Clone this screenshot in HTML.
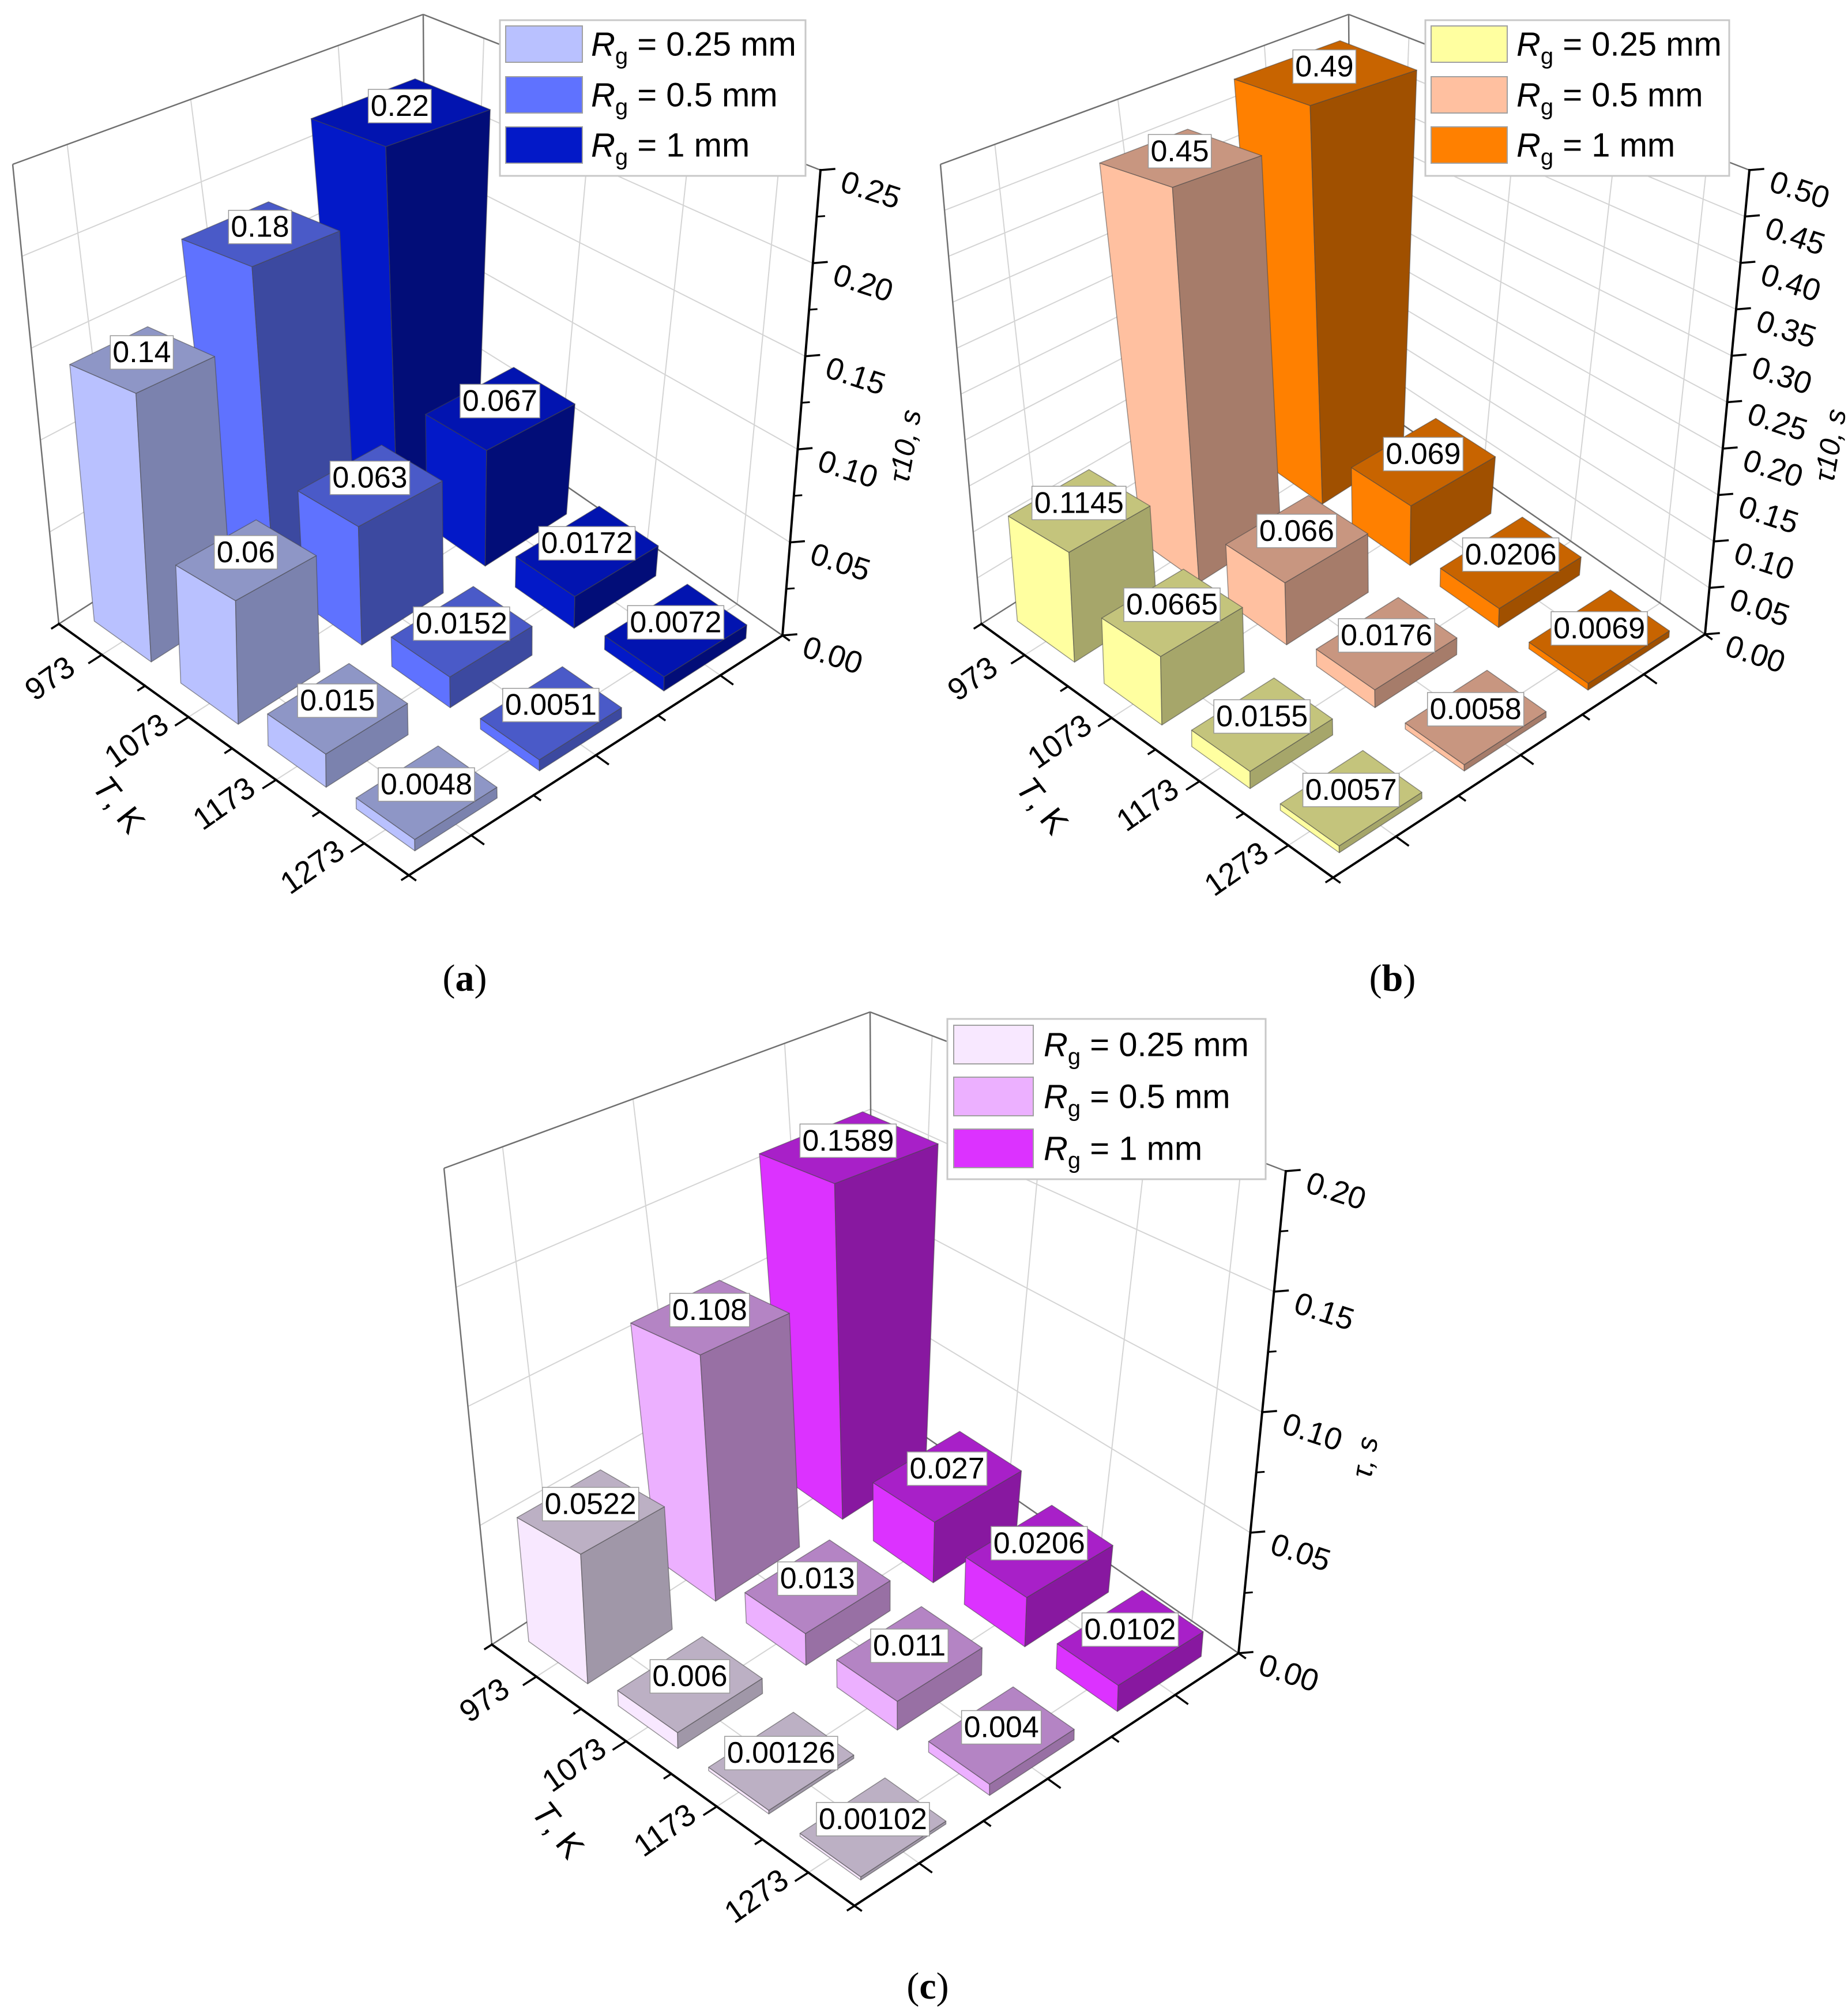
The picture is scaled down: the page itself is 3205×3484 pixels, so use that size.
<!DOCTYPE html>
<html><head><meta charset="utf-8"><title>Bar charts</title>
<style>
html,body{margin:0;padding:0;background:#fff;}
svg{display:block;font-family:"Liberation Sans",Arial,sans-serif;}
</style></head>
<body>
<svg id="fig" xmlns="http://www.w3.org/2000/svg" width="3205" height="3484" viewBox="0 0 3205 3484">
<rect x="0" y="0" width="3205" height="3484" fill="#fff"/>
<text x="806" y="1718" font-family="Liberation Serif,serif" font-size="66" text-anchor="middle">(<tspan font-weight="bold">a</tspan>)</text>
<text x="2415" y="1718" font-family="Liberation Serif,serif" font-size="66" text-anchor="middle">(<tspan font-weight="bold">b</tspan>)</text>
<text x="1609" y="3466" font-family="Liberation Serif,serif" font-size="66" text-anchor="middle">(<tspan font-weight="bold">c</tspan>)</text>
</svg>
<script>
const tCategories = ['973','1073','1173','1273'];
const seriesNames = ['0.25 mm','0.5 mm','1 mm'];
const aSeries025 = [0.14,0.06,0.015,0.0048];
const aSeries05 = [0.18,0.063,0.0152,0.0051];
const aSeries1 = [0.22,0.067,0.0172,0.0072];
const bSeries025 = [0.1145,0.0665,0.0155,0.0057];
const bSeries05 = [0.45,0.066,0.0176,0.0058];
const bSeries1 = [0.49,0.069,0.0206,0.0069];
const cSeries025 = [0.0522,0.006,0.00126,0.00102];
const cSeries05 = [0.108,0.013,0.011,0.004];
const cSeries1 = [0.1589,0.027,0.0206,0.0102];
const aTicks = [0,0.05,0.10,0.15,0.20,0.25];
const bTicks = [0,0.05,0.10,0.15,0.20,0.25,0.30,0.35,0.40,0.45,0.50];
const cTicks = [0,0.05,0.10,0.15,0.20];

const NS='http://www.w3.org/2000/svg';
const svg=document.getElementById('fig');
function mk(tag,attrs,parent){const e=document.createElementNS(NS,tag);for(const k in attrs)e.setAttribute(k,attrs[k]);(parent||svg).appendChild(e);return e;}
function homog(q){
  const [x0,y0]=q[0],[x1,y1]=q[1],[x2,y2]=q[2],[x3,y3]=q[3];
  const dx1=x1-x2,dx2=x3-x2,dx3=x0-x1+x2-x3,dy1=y1-y2,dy2=y3-y2,dy3=y0-y1+y2-y3;
  const den=dx1*dy2-dx2*dy1;
  const g=(dx3*dy2-dx2*dy3)/den,h=(dx1*dy3-dx3*dy1)/den;
  const a=x1-x0+g*x1,b=x3-x0+h*x3,c=x0,d=y1-y0+g*y1,e=y3-y0+h*y3,f=y0;
  return (u,v)=>{const w=g*u+h*v+1;return [(a*u+b*v+c)/w,(d*u+e*v+f)/w];};
}
const panels=[
 {id:'a',floor:[[102,1082],[709,1518],[1357,1102],[739,675]],top:[[22,285],[695,459],[1423,295],[734,25]],zmax:0.25,
  series:[aSeries025,aSeries05,aSeries1],ticks:aTicks,minor:true,title:'\u03c410, s',
  colors:[['#b9c1ff','#8e96c6','#7b82ae'],['#5f72ff','#4a5ac8','#3c49a0'],['#0319c8','#0214b0','#020d78']],
  legend:{x:867,y:35,w:530,h:270,sx:877,sw:133,rows:[45,133,220],sh:63,tx:1025}},
 {id:'b',floor:[[1702,1082],[2312,1522],[2957,1100],[2344,675]],top:[[1631,285],[2300,462],[3034,295],[2339,25]],zmax:0.5,
  series:[bSeries025,bSeries05,bSeries1],ticks:bTicks,minor:false,title:'\u03c410, s',
  colors:[['#ffffa0','#c4c47c','#a6a66a'],['#ffc0a0','#c89680','#a67c6a'],['#ff8000','#c86400','#a05000']],
  legend:{x:2472,y:35,w:527,h:270,sx:2482,sw:132,rows:[45,133,220],sh:63,tx:2630}},
 {id:'c',floor:[[853,2852],[1482,3305],[2148,2867],[1513,2428]],top:[[770,2026],[1481,2213],[2230,2031],[1509,1755]],zmax:0.2,
  series:[cSeries025,cSeries05,cSeries1],ticks:cTicks,minor:true,title:'\u03c4, s',
  colors:[['#f8e8ff','#bcb0c4','#a097a8'],['#ecb0ff','#b484c4','#9870a4'],['#dc32ff','#a820c8','#8818a0']],
  legend:{x:1643,y:1767,w:552,h:278,sx:1654,sw:138,rows:[1778,1868,1958],sh:67,tx:1810}}
];
function pts(a){return a.map(p=>p[0].toFixed(1)+','+p[1].toFixed(1)).join(' ');}

panels.forEach(P=>{
  const H0=homog(P.floor),H1=homog(P.top);
  const nT=tCategories.length,nS=seriesNames.length;
  const proj=(t,s,z)=>{const u=t/nT,v=s/nS;const p0=H0(u,v),p1=H1(u,v);const k=z/P.zmax;return [p0[0]+(p1[0]-p0[0])*k,p0[1]+(p1[1]-p0[1])*k];};
  const g=mk('g',{});
  
  
  const wl=mk('polygon',{points:pts([proj(0,0,0),proj(0,nS,0),proj(0,nS,P.zmax),proj(0,0,P.zmax)]),fill:'#fff',stroke:'none'},g);
  
  
  const wr=mk('polygon',{points:pts([proj(0,nS,0),proj(nT,nS,0),proj(nT,nS,P.zmax),proj(0,nS,P.zmax)]),fill:'#fff',stroke:'none'},g);
  
  
  const grid=mk('g',{stroke:'#d4d4d4','stroke-width':2,fill:'none'},g);
  
  
  const line=(p,q,par,st)=>{const l=mk('line',{x1:p[0],y1:p[1],x2:q[0],y2:q[1]},par);if(st)for(const k in st)l.setAttribute(k,st[k]);return l;};
  P.ticks.forEach(z=>{ if(z===0)return;
    line(proj(0,0,z),proj(0,nS,z),grid); line(proj(0,nS,z),proj(nT,nS,z),grid);});
  for(let j=0;j<nS;j++){line(proj(0,j+0.5,0),proj(0,j+0.5,P.zmax),grid);line(proj(0,j+0.5,0),proj(nT,j+0.5,0),grid);}
  for(let i=0;i<nT;i++){line(proj(i+0.5,nS,0),proj(i+0.5,nS,P.zmax),grid);line(proj(i+0.5,0,0),proj(i+0.5,nS,0),grid);}
  const frame=mk('g',{stroke:'#707070','stroke-width':2.5,fill:'none'},g);
  
  
  line(proj(0,0,0),proj(0,0,P.zmax),frame);line(proj(0,0,P.zmax),proj(0,nS,P.zmax),frame);
  line(proj(0,nS,P.zmax),proj(nT,nS,P.zmax),frame);line(proj(0,nS,0),proj(0,nS,P.zmax),frame);
  line(proj(0,0,0),proj(0,nS,0),frame);line(proj(0,nS,0),proj(nT,nS,0),frame);
  const cells=[];
  for(let i=0;i<nT;i++)for(let j=0;j<nS;j++)cells.push([i,j]);
  cells.sort((a,b)=>(a[0]-a[1])-(b[0]-b[1])||a[0]-b[0]);
  const labels=[];
  cells.forEach(([i,j])=>{
    const v=P.series[j][i];const col=P.colors[j];
    const t0=i+0.17,t1=i+0.83,s0=j+0.17,s1=j+0.83;
    const bg=mk('g',{stroke:'rgba(70,70,70,0.55)','stroke-width':1.5,'stroke-linejoin':'round'},g);
    
    
    mk('polygon',{points:pts([proj(t0,s0,0),proj(t1,s0,0),proj(t1,s0,v),proj(t0,s0,v)]),fill:col[0]},bg);
    mk('polygon',{points:pts([proj(t1,s0,0),proj(t1,s1,0),proj(t1,s1,v),proj(t1,s0,v)]),fill:col[2]},bg);
    mk('polygon',{points:pts([proj(t0,s0,v),proj(t1,s0,v),proj(t1,s1,v),proj(t0,s1,v)]),fill:col[1]},bg);
    labels.push([proj(i+0.5,j+0.5,v),String(v),i,j]);
  });
  const ax=mk('g',{stroke:'#000','stroke-width':4,fill:'none','stroke-linecap':'square'},g);
  
  
  line(proj(0,0,0),proj(nT,0,0),ax);line(proj(nT,0,0),proj(nT,nS,0),ax);line(proj(nT,nS,0),proj(nT,nS,P.zmax),ax);
  const A0=proj(0,0,0),D0=proj(0,nS,0),B0=proj(nT,0,0);
  let os=[A0[0]-D0[0],A0[1]-D0[1]];let L=Math.hypot(os[0],os[1]);os=[os[0]/L,os[1]/L];
  let ot=[B0[0]-A0[0],B0[1]-A0[1]];L=Math.hypot(ot[0],ot[1]);ot=[ot[0]/L,ot[1]/L];
  for(let k=0;k<=2*nT;k++){const p=proj(k/2,0,0);const len=k%2?26:14;line(p,[p[0]+os[0]*len,p[1]+os[1]*len],ax,{'stroke-width':3.5});}
  for(let k=0;k<=2*nS;k++){const p=proj(nT,k/2,0);const len=k%2?26:14;line(p,[p[0]+ot[0]*len,p[1]+ot[1]*len],ax,{'stroke-width':3.5});}
  const step=P.ticks[1]-P.ticks[0];
  P.ticks.forEach((z,idx)=>{
    const p=proj(nT,nS,z);line(p,[p[0]+24,p[1]-2],ax,{'stroke-width':3.5});
    if(P.minor&&idx<P.ticks.length-1){const q=proj(nT,nS,z+step/2);line(q,[q[0]+13,q[1]-1],ax,{'stroke-width':3});}
    const tx=mk('text',{x:0,y:0,'font-size':54,'text-anchor':'middle','dominant-baseline':'middle',transform:`translate(${(p[0]+86).toFixed(1)},${(p[1]+38).toFixed(1)}) rotate(18)`},g);
    
    
    tx.textContent=z.toFixed(2);
  });
  tCategories.forEach((c,i)=>{
    const p=proj(i+0.5,0,0);
    const tx=mk('text',{x:0,y:0,'font-size':54,'text-anchor':'middle','dominant-baseline':'middle',transform:`translate(${(p[0]-88).toFixed(1)},${(p[1]+44).toFixed(1)}) rotate(-35)`},g);
    
    
    tx.textContent=c;
  });
  const tp=proj(2,0,0);
  const tt=mk('text',{x:0,y:0,'font-size':58,'text-anchor':'middle','dominant-baseline':'middle',transform:`translate(${(tp[0]-200).toFixed(1)},${(tp[1]+100).toFixed(1)}) rotate(52)`},g);
  
  
  tt.innerHTML='<tspan font-style="italic">T</tspan>, K';
  const zp=proj(nT,nS,P.zmax*0.4);
  const zt=mk('text',{x:0,y:0,'font-size':50,'font-style':'italic','text-anchor':'middle','dominant-baseline':'middle',transform:`translate(${(zp[0]+190).toFixed(1)},${(zp[1]-5).toFixed(1)}) rotate(-80)`},g);
  
  
  zt.textContent=P.title;
  labels.forEach(([p,txt])=>{
    const lg=mk('g',{},g);
    
    
    const r=mk('rect',{fill:'#fff',stroke:'#999','stroke-width':1.5},lg);
    const t=mk('text',{x:p[0].toFixed(1),y:(p[1]-14).toFixed(1),'font-size':52,'text-anchor':'middle','dominant-baseline':'central'},lg);
    t.textContent=txt;
    const w=t.getComputedTextLength?t.getComputedTextLength():txt.length*29;
    r.setAttribute('x',(p[0]-w/2-4).toFixed(1));r.setAttribute('y',(p[1]-14-29).toFixed(1));
    r.setAttribute('width',(w+8).toFixed(1));r.setAttribute('height',58);
  });
  const Lg=P.legend;
  const leg=mk('g',{},g);
  
  
  mk('rect',{x:Lg.x,y:Lg.y,width:Lg.w,height:Lg.h,fill:'#fff',stroke:'#c8c8c8','stroke-width':3},leg);
  seriesNames.forEach((nm,j)=>{
    const e=mk('g',{},leg);
    
    
    mk('rect',{x:Lg.sx,y:Lg.rows[j],width:Lg.sw,height:Lg.sh,fill:P.colors[j][0],stroke:'#a0a0a0','stroke-width':2},e);
    const t=mk('text',{x:Lg.tx,y:Lg.rows[j]+Lg.sh/2+20,'font-size':58},e);
    t.innerHTML='<tspan font-style="italic">R</tspan><tspan font-size="40" dy="14">g</tspan><tspan dy="-14"> = '+nm+'</tspan>';
  });
});
</script>
</body></html>
